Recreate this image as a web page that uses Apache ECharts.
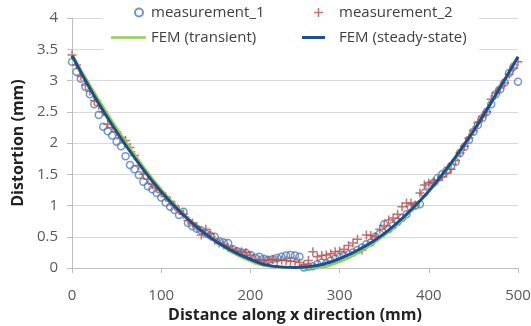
<!DOCTYPE html>
<html>
<head>
<meta charset="utf-8">
<script src="https://cdn.jsdelivr.net/npm/echarts@6/dist/echarts.min.js"></script>
<style>
  html, body { margin: 0; padding: 0; background: #fff; }
  #chart { width: 531px; height: 326px; }
</style>
</head>
<body>
<div id="chart"></div>
<script>
// positions along x (mm) where both measurements were taken
const measX = [
  0, 5, 10, 15, 20, 25, 30, 35, 40, 45, 50, 55, 60, 65, 70, 75, 80, 85, 90, 95,
  100, 105, 110, 115, 120, 125, 130, 135, 140, 145, 150, 155, 160, 165, 170, 175, 180, 185, 190, 195,
  200, 205, 210, 215, 220, 225, 230, 235, 240, 245, 250, 255, 260, 265, 270, 275, 280, 285, 290, 295,
  300, 305, 310, 315, 320, 325, 330, 335, 340, 345, 350, 355, 360, 365, 370, 375, 380, 385, 390, 395,
  400, 405, 410, 415, 420, 425, 430, 435, 440, 445, 450, 455, 460, 465, 470, 475, 480, 485, 490, 495,
  500,
]

const measurement1 = [
  3.30, 3.14, 3.03, 2.90, 2.78, 2.62, 2.45, 2.26, 2.19, 2.12, 2.02, 1.95, 1.79, 1.65, 1.58, 1.49, 1.38, 1.31, 1.26, 1.20,
  1.13, 1.05, 0.98, 0.93, 0.85, 0.90, 0.72, 0.67, 0.63, 0.60, 0.55, 0.52, 0.50, 0.43, 0.41, 0.40, 0.30, 0.27, 0.25, 0.24,
  0.21, 0.17, 0.18, 0.15, 0.13, 0.14, 0.16, 0.18, 0.20, 0.21, 0.20, 0.18, 0.01, 0.02, 0.03, 0.06, 0.09, 0.08, 0.12, 0.15,
  0.18, 0.20, 0.22, 0.25, 0.29, 0.33, 0.38, 0.41, 0.50, 0.55, 0.70, 0.62, 0.68, 0.74, 0.80, 0.86, 0.97, 1.00, 1.02, 1.20,
  1.32, 1.36, 1.44, 1.50, 1.56, 1.63, 1.70, 1.84, 1.94, 2.05, 2.18, 2.29, 2.40, 2.50, 2.62, 2.78, 2.86, 2.97, 3.12, 3.22,
  2.98,
]

const measurement2 = [
  3.41, 3.25, 3.07, 2.93, 2.83, 2.68, 2.60, 2.50, 2.30, 2.25, 2.18, 2.09, 2.04, 1.93, 1.80, 1.64, 1.50, 1.42, 1.34, 1.28,
  1.21, 1.14, 1.07, 1.00, 0.92, 0.86, 0.76, 0.72, 0.66, 0.53, 0.62, 0.55, 0.45, 0.40, 0.37, 0.33, 0.30, 0.27, 0.26, 0.25,
  0.20, 0.13, 0.13, 0.12, 0.13, 0.14, 0.12, 0.13, 0.12, 0.11, 0.11, 0.09, 0.05, 0.12, 0.26, 0.18, 0.20, 0.21, 0.23, 0.26,
  0.27, 0.30, 0.36, 0.40, 0.46, 0.29, 0.53, 0.52, 0.50, 0.62, 0.68, 0.77, 0.80, 0.86, 0.98, 1.04, 1.04, 1.01, 1.20, 1.33,
  1.36, 1.38, 1.41, 1.46, 1.52, 1.58, 1.72, 1.84, 1.95, 2.08, 2.20, 2.33, 2.42, 2.50, 2.70, 2.80, 2.88, 2.96, 3.10, 3.20,
  3.30,
]

// FEM results, sampled every 25 mm
const femX = [0, 25, 50, 75, 100, 125, 150, 175, 200, 225, 250, 275, 300, 325, 350, 375, 400, 425, 450, 475, 500]
const femTransient = [3.42, 2.81, 2.24, 1.72, 1.26, 0.87, 0.54, 0.29, 0.11, 0.02, 0.00, 0.01, 0.10, 0.28, 0.52, 0.84, 1.22, 1.67, 2.18, 2.76, 3.38]
const femSteady = [3.40, 2.75, 2.18, 1.67, 1.22, 0.85, 0.54, 0.31, 0.14, 0.03, 0.01, 0.04, 0.15, 0.32, 0.55, 0.86, 1.23, 1.68, 2.19, 2.77, 3.38]

const yTicks = [0, 0.5, 1, 1.5, 2, 2.5, 3, 3.5, 4]

const pairs = (xs, ys) => xs.map((x, i) => [x, ys[i]])

const font = '"Open Sans", "Liberation Sans", sans-serif'
const axisGray = '#bfbfbf'
const plusPath = 'path://M4,0h1.6v4h4v1.6h-4v4h-1.6v-4h-4v-1.6h4z'

const legendBase = {
  orient: 'horizontal',
  padding: 0,
  selectedMode: false,
  textStyle: { fontFamily: font, fontSize: 15, color: '#404040' },
}

const chart = echarts.init(document.getElementById('chart'), null, { renderer: 'canvas' })

chart.setOption({
  animation: false,
  backgroundColor: '#fff',
  grid: { left: 72, right: 13, top: 18, bottom: 58, outerBoundsMode: 'none' },
  graphic: [
    {
      type: 'rect',
      z: 1,
      left: 103,
      top: 0,
      shape: { width: 376, height: 54 },
      style: { fill: '#fff' },
    },
  ],
  legend: [
    { ...legendBase, data: ['measurement_1'], left: 134, top: 5, itemWidth: 8, itemHeight: 8,
      textStyle: { ...legendBase.textStyle, padding: [0, 0, 0, 3] } },
    { ...legendBase, data: ['measurement_2'], left: 314, top: 5, itemWidth: 9, itemHeight: 9,
      textStyle: { ...legendBase.textStyle, padding: [0, 0, 0, 11] } },
    { ...legendBase, data: ['FEM (transient)'], left: 111, top: 30, icon: 'rect', itemWidth: 35, itemHeight: 2.5 },
    { ...legendBase, data: ['FEM (steady-state)'], left: 302, top: 30, icon: 'rect', itemWidth: 23, itemHeight: 3,
      textStyle: { ...legendBase.textStyle, padding: [0, 0, 0, 9] } },
  ],
  xAxis: {
    type: 'value',
    min: 0,
    max: 500,
    interval: 100,
    name: 'Distance along x direction (mm)',
    nameLocation: 'middle',
    nameGap: 36,
    nameTextStyle: { fontFamily: font, fontSize: 16, fontWeight: 'bold', color: '#222' },
    axisLine: { show: true, lineStyle: { color: axisGray, width: 1 } },
    axisTick: { show: true, length: 5, lineStyle: { color: axisGray } },
    axisLabel: { fontFamily: font, fontSize: 15, color: '#595959', margin: 20 },
    splitLine: { show: false },
  },
  yAxis: {
    type: 'value',
    min: yTicks[0],
    max: yTicks[yTicks.length - 1],
    interval: 0.5,
    name: 'Distortion (mm)',
    nameLocation: 'middle',
    nameGap: 44,
    nameTextStyle: { fontFamily: font, fontSize: 16, fontWeight: 'bold', color: '#222' },
    axisLine: { show: true, lineStyle: { color: axisGray, width: 1 } },
    axisTick: { show: true, length: 5, lineStyle: { color: axisGray } },
    axisLabel: { fontFamily: font, fontSize: 15, color: '#595959', margin: 14 },
    splitLine: { show: true, lineStyle: { color: '#d9d9d9', width: 1 } },
  },
  series: [
    {
      name: 'measurement_1',
      type: 'scatter',
      z: 2,
      symbol: 'circle',
      symbolSize: 7,
      itemStyle: { color: 'rgba(0,0,0,0)', borderColor: '#4a7ebb', borderWidth: 1.5 },
      data: pairs(measX, measurement1),
    },
    {
      name: 'measurement_2',
      type: 'scatter',
      z: 2,
      symbol: plusPath,
      symbolSize: 9,
      itemStyle: { color: '#be4b48' },
      data: pairs(measX, measurement2),
    },
    {
      name: 'FEM (transient)',
      type: 'line',
      z: 3,
      symbol: 'none',
      smooth: true,
      lineStyle: { color: '#92d050', width: 2.5 },
      itemStyle: { color: '#92d050' },
      data: pairs(femX, femTransient),
    },
    {
      name: 'FEM (steady-state)',
      type: 'line',
      z: 4,
      symbol: 'none',
      smooth: true,
      lineStyle: { color: '#1f4e8c', width: 3 },
      itemStyle: { color: '#1f4e8c' },
      data: pairs(femX, femSteady),
    },
  ],
})
</script>
</body>
</html>
